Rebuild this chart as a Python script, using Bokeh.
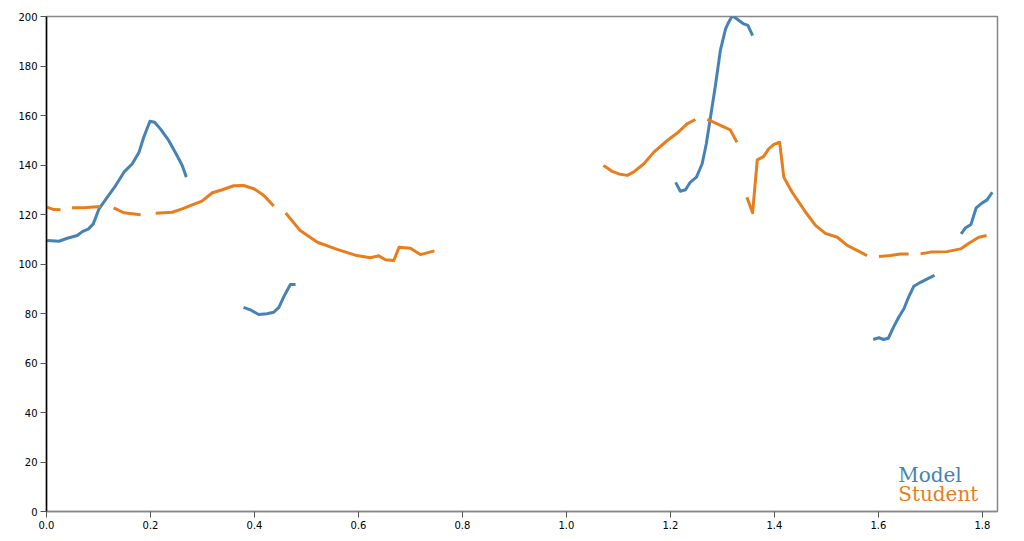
import math
from bokeh.plotting import figure
from bokeh.models import Label, FixedTicker, Range1d
from bokeh.embed import file_html
from bokeh.resources import INLINE

NaN = float("nan")

model_t = [0.001, 0.024, 0.040, 0.059, 0.069, 0.081, 0.090, 0.101, 0.117, 0.133, 0.149, 0.165, 0.178, 0.187, 0.199, 0.208, 0.219, 0.235, 0.251, 0.261, 0.269,
           NaN,
           0.379, 0.392, 0.408, 0.424, 0.437, 0.447, 0.456, 0.469, 0.479,
           NaN,
           1.210, 1.219, 1.229, 1.238, 1.250, 1.261, 1.269, 1.277, 1.287, 1.296, 1.306, 1.312, 1.319, 1.328, 1.341, 1.349, 1.358,
           NaN,
           1.590, 1.601, 1.610, 1.619, 1.629, 1.639, 1.649, 1.658, 1.668, 1.681, 1.694, 1.708,
           NaN,
           1.759, 1.767, 1.778, 1.788, 1.799, 1.809, 1.819]
model_f = [109.5, 109.2, 110.4, 111.5, 113.1, 114.2, 116.2, 122.3, 127.0, 131.7, 137.1, 140.5, 145.2, 151.2, 157.7, 157.3, 154.6, 149.9, 143.8, 139.8, 135.1,
           NaN,
           82.5, 81.5, 79.6, 79.9, 80.5, 82.5, 86.6, 91.7, 91.7,
           NaN,
           133.0, 129.4, 130.0, 133.0, 135.1, 140.5, 148.6, 159.3, 172.8, 186.3, 195.0, 197.7, 200.3, 199.0, 197.0, 196.4, 192.3,
           NaN,
           69.5, 70.2, 69.5, 70.0, 74.5, 78.5, 81.9, 86.6, 91.0, 92.6, 94.0, 95.4,
           NaN,
           112.2, 114.5, 116.0, 122.7, 124.6, 125.9, 129.0]

student_t = [0.001, 0.014, 0.027,
             NaN,
             0.049, 0.072, 0.104,
             NaN,
             0.129, 0.149, 0.181,
             NaN,
             0.210, 0.242, 0.261, 0.280, 0.299, 0.319, 0.338, 0.360, 0.379, 0.399, 0.418, 0.437,
             NaN,
             0.460, 0.488, 0.521, 0.559, 0.597, 0.623, 0.639, 0.652, 0.668, 0.678, 0.700, 0.719, 0.746,
             NaN,
             1.071, 1.078, 1.088, 1.101, 1.117, 1.129, 1.149, 1.168, 1.194, 1.213, 1.232, 1.248,
             NaN,
             1.271, 1.290, 1.315, 1.328,
             NaN,
             1.347, 1.358, 1.367, 1.379, 1.389, 1.399, 1.410, 1.418, 1.434, 1.447, 1.460, 1.479, 1.498, 1.521, 1.540, 1.559, 1.578,
             NaN,
             1.601, 1.623, 1.642, 1.658,
             NaN,
             1.681, 1.700, 1.732, 1.758, 1.774, 1.793, 1.808]
student_f = [123.0, 122.0, 121.9,
             NaN,
             122.7, 122.7, 123.2,
             NaN,
             122.7, 120.7, 119.9,
             NaN,
             120.5, 120.9, 122.3, 123.9, 125.4, 128.8, 130.0, 131.6, 131.7, 130.4, 127.7, 123.4,
             NaN,
             120.6, 113.5, 108.8, 105.9, 103.4, 102.5, 103.3, 101.7, 101.4, 106.8, 106.4, 103.8, 105.3,
             NaN,
             139.8, 138.9, 137.4, 136.4, 135.8, 137.1, 140.5, 145.2, 149.9, 152.9, 156.6, 158.4,
             NaN,
             158.4, 156.6, 154.2, 149.2,
             NaN,
             127.0, 120.7, 142.1, 143.4, 146.5, 148.3, 149.2, 135.1, 129.0, 125.0, 120.9, 115.6, 112.4, 110.8, 107.5, 105.5, 103.4,
             NaN,
             103.0, 103.4, 104.0, 104.0,
             NaN,
             104.1, 104.8, 105.0, 106.1, 108.4, 110.8, 111.5]

x_ticks = [0.0, 0.2, 0.4, 0.6, 0.8, 1.0, 1.2, 1.4, 1.6, 1.8]
y_ticks = [0, 20, 40, 60, 80, 100, 120, 140, 160, 180, 200]
legend_labels = ["Model", "Student"]

BLUE = "#4682b4"
ORANGE = "#e87d1e"

p = figure(width=1008, height=538, output_backend="svg", toolbar_location=None,
           x_range=Range1d(0, 1.829), y_range=Range1d(0, 200))
p.min_border_left = 46
p.min_border_top = 16
p.min_border_bottom = 27
p.min_border_right = 11
p.grid.visible = False
p.outline_line_color = "#888888"
p.outline_line_width = 1.5
p.background_fill_color = "white"
p.border_fill_color = "white"

p.xaxis.ticker = FixedTicker(ticks=x_ticks)
p.yaxis.ticker = FixedTicker(ticks=y_ticks)
p.xaxis.major_label_overrides = {t: f"{t:.1f}" for t in x_ticks}
for ax in (p.xaxis, p.yaxis):
    ax.minor_tick_line_color = None
    ax.major_tick_out = 6
    ax.major_tick_in = 0
    ax.major_label_text_font = "DejaVu Sans"
    ax.major_label_text_font_size = "10px"
    ax.major_label_text_color = "black"
    ax.major_label_standoff = 3
p.yaxis.axis_line_color = "black"
p.yaxis.axis_line_width = 1.5
p.yaxis.major_tick_line_color = "#555555"
p.xaxis.axis_line_color = "#888888"
p.xaxis.axis_line_width = 1.5
p.xaxis.major_tick_line_color = "#555555"

p.line(model_t, model_f, line_color=BLUE, line_width=3, line_join="round")
p.line(student_t, student_f, line_color=ORANGE, line_width=3, line_join="round")

for lbl, col, yv in zip(legend_labels, [BLUE, ORANGE], [14.9, 7.2]):
    p.add_layout(Label(x=1.638, y=yv, text=lbl, text_color=col,
                       text_font="DejaVu Serif", text_font_size="20px",
                       text_baseline="alphabetic", text_align="left"))

open("out.html", "w").write(file_html(p, INLINE))
